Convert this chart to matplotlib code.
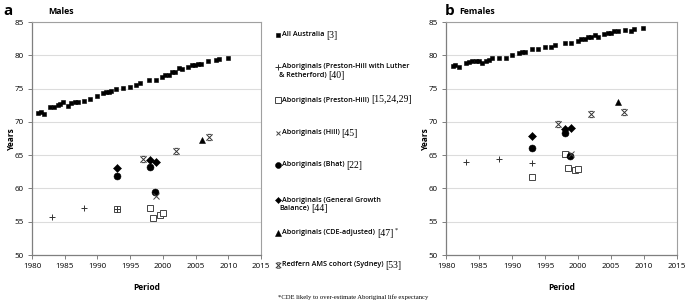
import numpy as np
import matplotlib
matplotlib.use("Agg")
import matplotlib.pyplot as plt
from matplotlib.path import Path

# ---- data ----
# All Australia [3]
aus_m_year = [1980.9, 1981.4, 1981.9, 1982.8, 1983.3, 1983.9, 1984.3, 1984.8, 1985.5, 1986.0,
              1986.5, 1987.0, 1987.9, 1988.9, 1989.9, 1990.9, 1991.3, 1991.7, 1992.0, 1992.9,
              1993.9, 1995.0, 1995.9, 1996.5, 1997.9, 1999.0, 1999.9, 2000.4, 2000.9, 2001.4,
              2001.9, 2002.5, 2003.0, 2003.9, 2004.4, 2004.9, 2005.4, 2005.9, 2006.9, 2008.1,
              2008.6, 2010.0]
aus_m_val = [71.3, 71.5, 71.2, 72.2, 72.2, 72.5, 72.7, 73.0, 72.4, 72.8,
             73.0, 73.0, 73.1, 73.4, 73.9, 74.4, 74.5, 74.5, 74.6, 75.0,
             75.1, 75.2, 75.5, 75.8, 76.3, 76.3, 76.7, 77.1, 77.1, 77.5,
             77.5, 78.1, 77.9, 78.2, 78.5, 78.6, 78.7, 78.7, 79.1, 79.3,
             79.4, 79.6]
aus_f_year = [1981.0, 1981.4, 1982.0, 1983.0, 1983.5, 1984.0, 1984.5, 1985.0, 1985.4, 1986.0,
              1986.5, 1987.0, 1988.0, 1989.1, 1990.0, 1991.0, 1991.5, 1992.0, 1993.0, 1994.0,
              1995.0, 1995.9, 1996.5, 1998.0, 1999.0, 2000.0, 2000.5, 2001.0, 2001.5, 2002.0,
              2002.5, 2003.0, 2004.0, 2004.5, 2005.0, 2005.5, 2006.0, 2007.1, 2008.0, 2008.5,
              2009.9]
aus_f_val = [78.4, 78.5, 78.3, 78.8, 79.0, 79.1, 79.2, 79.1, 78.9, 79.2,
             79.3, 79.6, 79.6, 79.6, 80.1, 80.4, 80.5, 80.5, 80.9, 81.0,
             81.2, 81.2, 81.5, 81.9, 81.9, 82.1, 82.5, 82.5, 82.7, 82.7,
             83.1, 82.8, 83.2, 83.4, 83.4, 83.6, 83.6, 83.8, 83.7, 84.0,
             84.1]

# Preston-Hill with Luther & Retherford [40]
phl_year = [1983, 1988, 1993]
phl_m = [55.7, 57.0, 56.9]
phl_f = [63.9, 64.4, 63.85]

# Preston-Hill [15,24,29]
ph_year = [1993, 1998, 1998.5, 1999.5, 2000]
ph_m = [56.9, 57.0, 55.6, 56.05, 56.35]
ph_f = [61.7, 65.1, 63.0, 62.7, 62.85]

# Hill [45]
hill_year = [1999]
hill_m = [58.9]
hill_f = [65.2]

# Bhat [22]
bhat_year = [1993, 1998, 1998.8]
bhat_m = [61.9, 63.2, 59.4]
bhat_f = [66.1, 68.3, 64.9]

# General Growth Balance [44]
ggb_year = [1993, 1998, 1999]
ggb_m = [63.0, 64.2, 64.0]
ggb_f = [67.95, 68.9, 69.1]

# CDE-adjusted [47]
cde_year = [2006]
cde_m = [67.25]
cde_f = [73.0]

# Redfern AMS cohort (Sydney) [53]
red_year = [1997, 2002, 2007]
red_m = [64.45, 65.65, 67.7]
red_f = [69.65, 71.2, 71.5]

legend_names = ["All Australia", "Aboriginals (Preston-Hill with Luther\n& Retherford)",
                "Aboriginals (Preston-Hill)", "Aboriginals (Hill)", "Aboriginals (Bhat)",
                "Aboriginals (General Growth\nBalance)", "Aboriginals (CDE-adjusted)",
                "Redfern AMS cohort (Sydney)"]
legend_refs = ["[3]", "[40]", "[15,24,29]", "[45]", "[22]", "[44]", "[47]", "[53]"]

# x with caps, like the Excel "star" marker
star = Path([(-1, -1), (1, 1), (-1, 1), (1, -1), (-0.6, 1), (0.6, 1), (-0.6, -1), (0.6, -1)],
            [Path.MOVETO, Path.LINETO, Path.MOVETO, Path.LINETO,
             Path.MOVETO, Path.LINETO, Path.MOVETO, Path.LINETO])

styles = [
    dict(marker="s", ms=2.6, mfc="black", mec="black", mew=0.4, zorder=3),
    dict(marker="+", ms=4.5, mfc="none", mec="#333333", mew=0.7, zorder=5),
    dict(marker="s", ms=5, mfc="white", mec="#444444", mew=0.7, zorder=3),
    dict(marker="x", ms=4, mfc="none", mec="#444444", mew=0.7, zorder=4),
    dict(marker="o", ms=5, mfc="black", mec="black", mew=0.4, zorder=3),
    dict(marker="D", ms=3.6, mfc="black", mec="black", mew=0.4, zorder=3),
    dict(marker="^", ms=5, mfc="black", mec="black", mew=0.4, zorder=3),
    dict(marker=star, ms=4.5, mfc="none", mec="#333333", mew=0.7, zorder=4),
]

SANS = ["Open Sans", "DejaVu Sans"]
SERIF = "Liberation Serif"

fig = plt.figure(figsize=(6.85, 3.04), dpi=100)
fig.patch.set_facecolor("white")
W, H = 685, 304


def make_panel(rect, series, width_px):
    ax = fig.add_axes(rect)
    for (xs, ys), st in zip(series, styles):
        ax.plot(xs, ys, linestyle="none", **st)
    ax.set_xlim(1980, 2015)
    ax.set_ylim(50, 85)
    ax.set_xticks(range(1980, 2016, 5))
    ax.set_yticks(range(50, 86, 5))
    ax.yaxis.grid(True, color="#dcdcdc", lw=0.8)
    ax.set_axisbelow(True)
    for s in ["top", "right"]:
        ax.spines[s].set_color("#a0a0a0")
        ax.spines[s].set_linewidth(0.8)
    for s in ["left", "bottom"]:
        ax.spines[s].set_color("#7f7f7f")
        ax.spines[s].set_linewidth(0.9)
    ax.tick_params(labelsize=5.8, length=3, width=0.7, color="#7f7f7f", pad=3)
    for lab in ax.get_xticklabels() + ax.get_yticklabels():
        lab.set_fontfamily(SANS)
    ax.set_xlabel("Period", fontsize=6, fontweight="bold", family=SANS, labelpad=9)
    ax.set_ylabel("Years", fontsize=6, fontweight="bold", family=SANS)
    ax.yaxis.set_label_coords(-16 / width_px, 0.5)
    return ax


males = [(aus_m_year, aus_m_val), (phl_year, phl_m), (ph_year, ph_m), (hill_year, hill_m),
         (bhat_year, bhat_m), (ggb_year, ggb_m), (cde_year, cde_m), (red_year, red_m)]
females = [(aus_f_year, aus_f_val), (phl_year, phl_f), (ph_year, ph_f), (hill_year, hill_f),
           (bhat_year, bhat_f), (ggb_year, ggb_f), (cde_year, cde_f), (red_year, red_f)]

make_panel([32 / W, 1 - 255 / H, 229 / W, 233 / H], males, 229)
make_panel([446 / W, 1 - 255 / H, 231 / W, 233 / H], females, 231)

fig.text(3 / W, 1 - 11 / H, "a", fontsize=11, fontweight="bold", family=SANS, va="center")
fig.text(48 / W, 1 - 11 / H, "Males", fontsize=6.3, fontweight="bold", family=SANS, va="center")
fig.text(445 / W, 1 - 11 / H, "b", fontsize=11, fontweight="bold", family=SANS, va="center")
fig.text(459 / W, 1 - 11 / H, "Females", fontsize=6.3, fontweight="bold", family=SANS, va="center")

# legend in the middle, drawn by hand so the refs can be serif
lax = fig.add_axes([0, 0, 1, 1])
lax.set_xlim(0, W)
lax.set_ylim(H, 0)
lax.axis("off")
renderer = fig.canvas.get_renderer()

rows = [35, 67, 100, 133, 165, 200, 233, 265]
for name, ref, st, y in zip(legend_names, legend_refs, styles, rows):
    st2 = dict(st)
    st2["ms"] = st["ms"] * 0.85
    lax.plot([278], [y], linestyle="none", clip_on=False, **st2)
    lines = name.split("\n")
    for i, line in enumerate(lines):
        ly = y + i * 8.5
        t = lax.text(282 if i == 0 else 279, ly, line, fontsize=5.2, family=SANS,
                     fontweight="semibold", va="center", ha="left")
        if i == len(lines) - 1:
            bb = t.get_window_extent(renderer)
            x_end = bb.x1 + 2
            r = fig.text(x_end / W, 1 - ly / H, ref, fontsize=7, family=SERIF,
                         va="center", ha="left")
            if ref == "[47]":
                bb2 = r.get_window_extent(renderer)
                fig.text((bb2.x1 + 1) / W, 1 - (ly - 3) / H, "*", fontsize=4.5,
                         family=SERIF, va="center", ha="left")

fig.text(353 / W, 1 - 297 / H, "*CDE likely to over-estimate Aboriginal life expectancy",
         fontsize=4.8, family=SERIF, ha="center", va="center")

fig.savefig("out.png", dpi=100, facecolor="white")
